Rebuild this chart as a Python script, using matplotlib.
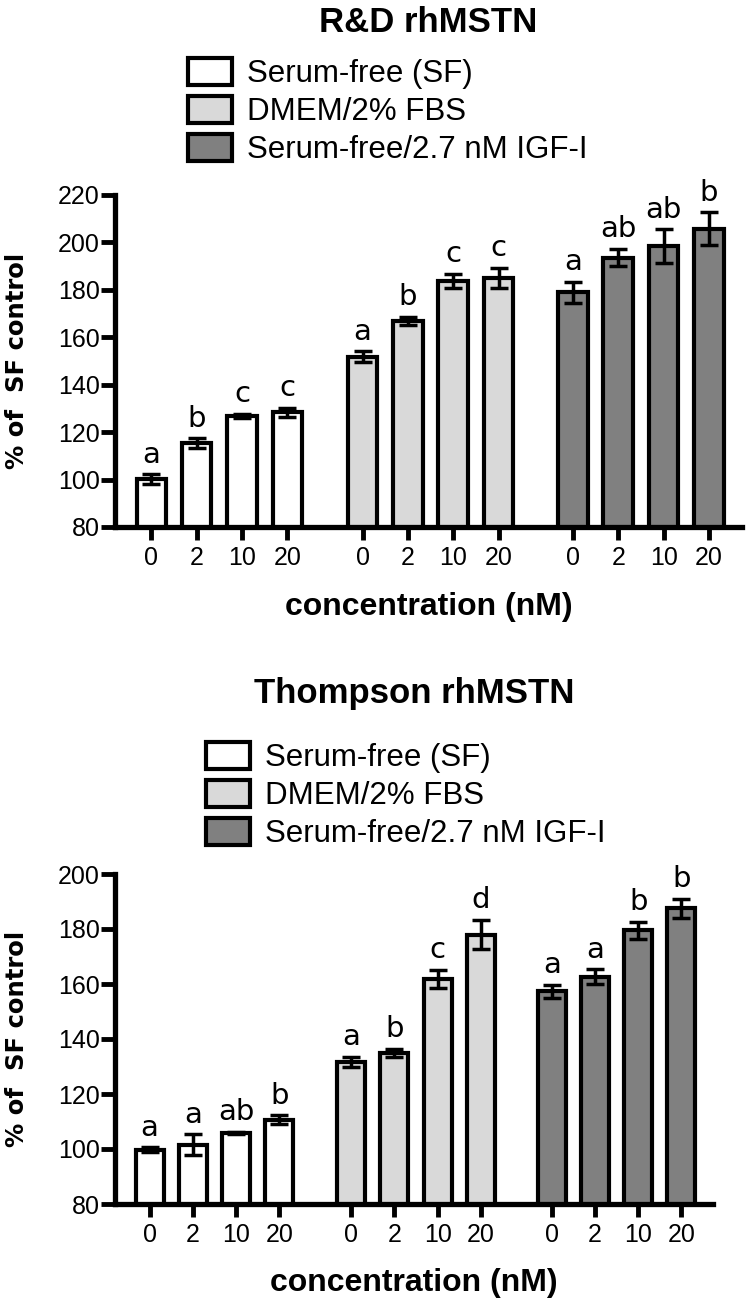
import matplotlib
matplotlib.use("Agg")
import matplotlib.pyplot as plt

plt.rcParams["font.family"] = ["Liberation Sans", "DejaVu Sans"]

# shared categories
concentrations = ["0", "2", "10", "20"]
media = ["Serum-free (SF)", "DMEM/2% FBS", "Serum-free/2.7 nM IGF-I"]
colors = ["white", "#d9d9d9", "#808080"]

# R&D rhMSTN (mean and SEM per medium, 0/2/10/20 nM)
rd_sf = [100.2, 115.4, 126.8, 128.3]
rd_dmem = [151.8, 167.0, 183.7, 185.0]
rd_igf = [178.9, 193.6, 198.5, 205.8]
rd_sf_err = [2.0, 2.0, 1.0, 2.0]
rd_dmem_err = [2.3, 1.7, 3.0, 4.3]
rd_igf_err = [4.5, 3.7, 7.0, 7.0]
rd_letters = [["a", "b", "c", "c"], ["a", "b", "c", "c"], ["a", "ab", "ab", "b"]]

# Thompson rhMSTN
th_sf = [99.8, 101.5, 105.8, 110.7]
th_dmem = [131.8, 135.0, 161.9, 178.0]
th_igf = [157.3, 162.6, 179.6, 187.5]
th_sf_err = [0.8, 3.8, 0.5, 1.6]
th_dmem_err = [1.8, 1.5, 3.2, 5.3]
th_igf_err = [2.5, 2.7, 3.1, 3.4]
th_letters = [["a", "a", "ab", "b"], ["a", "b", "c", "d"], ["a", "a", "b", "b"]]

group_starts = [0, 4.66, 9.3]
W, H = 750, 1307


def draw_panel(ax, title, means, errs, letters, ymax, title_y, legend_px):
    xs_all = []
    handles = []
    for g, (m, e, lab) in enumerate(zip(means, errs, letters)):
        xs = [group_starts[g] + i for i in range(len(concentrations))]
        xs_all += xs
        bars = ax.bar(xs, m, width=0.65, color=colors[g], edgecolor="black",
                      linewidth=3.0, zorder=2)
        handles.append(bars)
        ax.errorbar(xs, m, yerr=e, fmt="none", ecolor="black", elinewidth=2.5,
                    capsize=6.5, capthick=2.5, zorder=3)
        for x, v, err, t in zip(xs, m, e, lab):
            ax.annotate(t, (x, v + err), xytext=(0, 4), textcoords="offset points",
                        ha="center", va="bottom", fontsize=21, family="DejaVu Sans")

    ax.set_xlim(-0.8, 13.03)
    ax.set_ylim(80, ymax)
    ax.set_yticks(range(80, ymax + 1, 20))
    ax.set_xticks(xs_all)
    ax.set_xticklabels(concentrations * 3)
    for s in ["top", "right"]:
        ax.spines[s].set_visible(False)
    for s in ["left", "bottom"]:
        ax.spines[s].set_linewidth(3.8)
    ax.tick_params(axis="x", length=9.5, width=3.5, pad=4, labelsize=18)
    ax.tick_params(axis="y", length=10, width=3.5, pad=1, labelsize=18)

    ax.set_xlabel("concentration (nM)", fontsize=23, fontweight="bold")
    ax.xaxis.label.set_verticalalignment("center")
    ax.xaxis.set_label_coords(0.5, -0.24)
    ax.set_ylabel("% of  SF control", fontsize=17.5, fontweight="bold",
                  family="DejaVu Sans")
    ax_w = ax.get_position().width * W
    ax.yaxis.set_label_coords(-(115 - 29) / ax_w, 0.5)

    ax.text(0.5, title_y, title, transform=ax.transAxes, ha="center",
            va="baseline", fontsize=25, fontweight="bold")

    ax.legend(handles, media, loc="upper left",
              bbox_to_anchor=(legend_px[0] / W, 1 - legend_px[1] / H),
              bbox_transform=ax.figure.transFigure, frameon=False,
              borderpad=0, borderaxespad=0, fontsize=22.5, handlelength=1.4,
              handleheight=0.95, handletextpad=0.5, labelspacing=0.22)


fig = plt.figure(figsize=(W / 100, H / 100), dpi=100)
ax1 = fig.add_axes([115 / W, 1 - 527 / H, 627 / W, 332 / H])
ax2 = fig.add_axes([115 / W, 1 - 1204 / H, 598 / W, 330 / H])

draw_panel(ax1, "R&D rhMSTN", [rd_sf, rd_dmem, rd_igf],
           [rd_sf_err, rd_dmem_err, rd_igf_err], rd_letters, 220,
           1 + 163 / 332, (188, 58))
draw_panel(ax2, "Thompson rhMSTN", [th_sf, th_dmem, th_igf],
           [th_sf_err, th_dmem_err, th_igf_err], th_letters, 200,
           1 + 171 / 330, (206, 742))

fig.savefig("out.png", dpi=100)
